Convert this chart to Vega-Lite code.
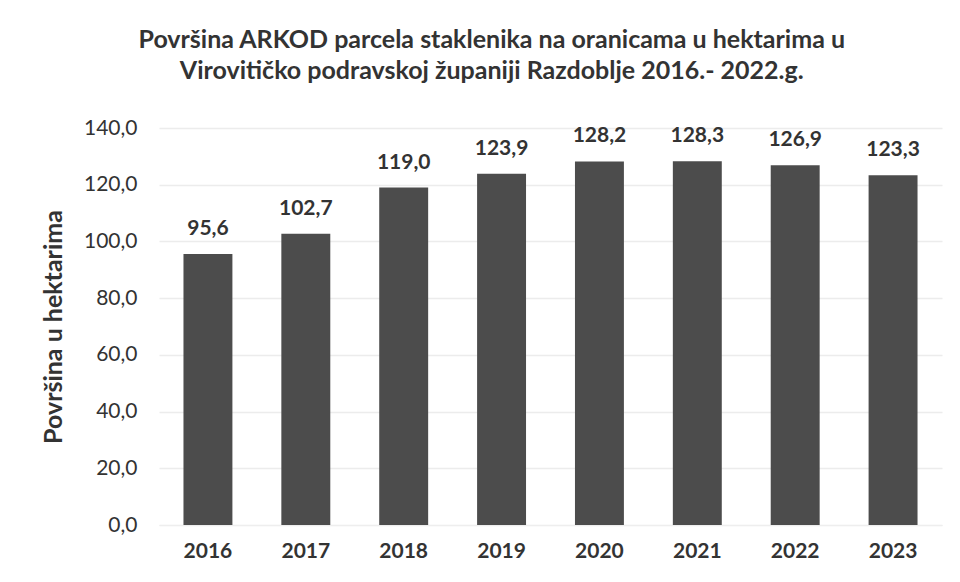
{
  "$schema": "https://vega.github.io/schema/vega-lite/v6.json",
  "width": 783,
  "height": 397,
  "autosize": "none",
  "padding": {"left": 159, "top": 128, "right": 18, "bottom": 57},
  "background": "white",
  "config": {
    "font": "Lato",
    "locale": {"number": {"decimal": ",", "thousands": ".", "grouping": [3], "currency": ["", " €"]}},
    "view": {"stroke": null}
  },
  "title": {
    "text": ["Površina ARKOD parcela staklenika na oranicama u hektarima u", "Virovitičko podravskoj županiji Razdoblje 2016.- 2022.g."],
    "font": "Lato",
    "fontSize": 25,
    "fontWeight": "bold",
    "color": "#333333",
    "lineHeight": 31,
    "anchor": "middle",
    "frame": "bounds",
    "offset": 33
  },
  "data": {
    "values": [
      {"godina": "2016", "povrsina": 95.6},
      {"godina": "2017", "povrsina": 102.7},
      {"godina": "2018", "povrsina": 119.0},
      {"godina": "2019", "povrsina": 123.9},
      {"godina": "2020", "povrsina": 128.2},
      {"godina": "2021", "povrsina": 128.3},
      {"godina": "2022", "povrsina": 126.9},
      {"godina": "2023", "povrsina": 123.3}
    ]
  },
  "encoding": {
    "x": {
      "field": "godina",
      "type": "nominal",
      "scale": {"paddingInner": 0.5, "paddingOuter": 0.25},
      "axis": {
        "title": null,
        "labelAngle": 0,
        "labelFont": "Lato",
        "labelFontSize": 21,
        "labelFontWeight": "bold",
        "labelColor": "#333333",
        "labelPadding": 15,
        "ticks": false,
        "domain": true,
        "domainColor": "#eeeeee",
        "grid": false
      }
    },
    "y": {
      "field": "povrsina",
      "type": "quantitative",
      "scale": {"domain": [0, 140]},
      "axis": {
        "title": "Površina u hektarima",
        "titleFont": "Lato",
        "titleFontSize": 25,
        "titleFontWeight": "bold",
        "titleColor": "#333333",
        "titlePadding": 17,
        "values": [0, 20, 40, 60, 80, 100, 120, 140],
        "format": ".1f",
        "labelFont": "Lato",
        "labelFontSize": 21,
        "labelColor": "#333333",
        "labelPadding": 22,
        "ticks": false,
        "domain": false,
        "gridColor": "#ececec",
        "gridWidth": 1.5
      }
    }
  },
  "layer": [
    {"mark": {"type": "bar", "color": "#4c4c4c"}},
    {
      "mark": {"type": "text", "dy": -19, "baseline": "alphabetic", "font": "Lato", "fontSize": 21, "fontWeight": "bold", "color": "#333333"},
      "encoding": {"text": {"field": "povrsina", "type": "quantitative", "format": ".1f"}}
    }
  ]
}
